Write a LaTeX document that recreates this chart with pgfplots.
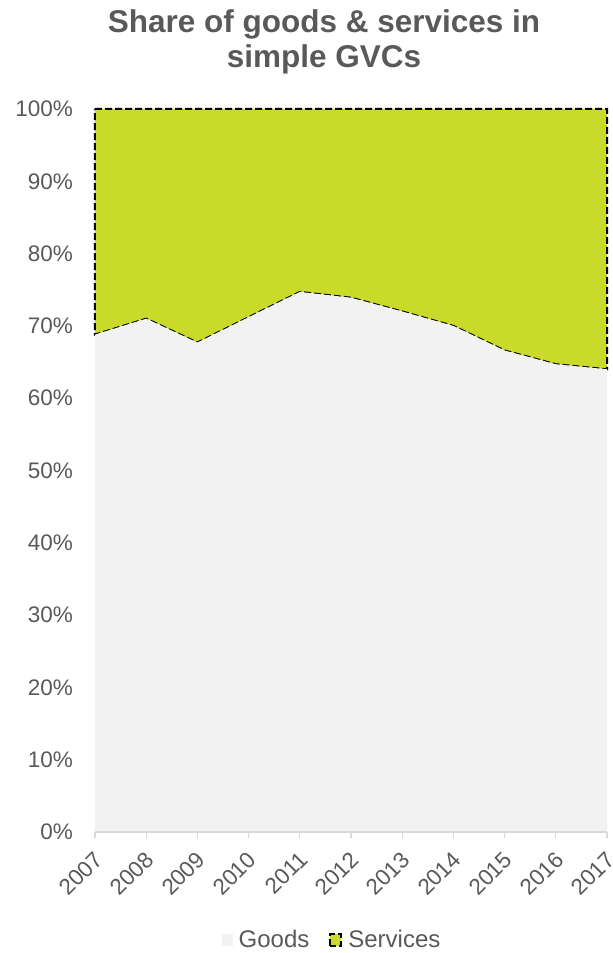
\documentclass[border=0pt]{standalone}
\usepackage{pgfplots}
\pgfplotsset{compat=1.18}
\usepackage{pgfplotstable}
\usepackage{fontspec}
\setmainfont{Liberation Sans}

\definecolor{goodsgrey}{HTML}{F2F2F2}
\definecolor{servgreen}{HTML}{C9DA2A}
\definecolor{txtgrey}{HTML}{595959}
\definecolor{axisgrey}{HTML}{D9D9D9}

% shares in per cent, goods + services = 100
\pgfplotstableread{
year goods services
2007 68.8 31.2
2008 71.0 29.0
2009 67.7 32.3
2010 71.2 28.8
2011 74.7 25.3
2012 73.9 26.1
2013 72.0 28.0
2014 70.0 30.0
2015 66.6 33.4
2016 64.7 35.3
2017 64.0 36.0
}\shares

\begin{document}
\begin{tikzpicture}
\useasboundingbox (0pt,0pt) rectangle (613pt,953pt);

\node[anchor=base, text=txtgrey, font=\fontsize{31.5}{35}\selectfont\bfseries]
  at (324pt,920pt) {Share of goods \& services in};
\node[anchor=base, text=txtgrey, font=\fontsize{31.5}{35}\selectfont\bfseries]
  at (324pt,885pt) {simple GVCs};

\begin{axis}[
  at={(95pt,121pt)}, anchor=south west,
  scale only axis, width=512pt, height=723pt,
  xmin=2007, xmax=2017, ymin=0, ymax=100,
  clip=false,
  stack plots=y,
  axis on top,
  axis x line*=bottom,
  axis y line*=left,
  y axis line style={draw=none},
  x axis line style={draw=axisgrey, line width=1.2pt},
  xtick={2007,...,2017},
  xticklabels={2007,2008,2009,2010,2011,2012,2013,2014,2015,2016,2017},
  ytick={0,10,...,100},
  yticklabels={0\%,10\%,20\%,30\%,40\%,50\%,60\%,70\%,80\%,90\%,100\%},
  x tick style={draw=axisgrey, line width=1.2pt},
  major tick length=6pt,
  tick align=outside,
  ytick style={draw=none},
  tick label style={font=\fontsize{22.5}{26}\selectfont, text=txtgrey},
  yticklabel style={anchor=east, inner sep=0pt, xshift=-16pt},
  xticklabel style={xshift=-2pt, rotate=45, anchor=north east, inner sep=0pt},
  xticklabel shift=12pt,
  legend columns=2,
  legend style={at={(0.461,-0.149)}, anchor=center, draw=none, fill=none,
    inner sep=0pt, nodes={inner sep=0pt},
    font=\fontsize{24}{28}\selectfont, text=txtgrey,
    /tikz/every odd column/.append style={column sep=6pt},
    /tikz/every even column/.append style={column sep=20pt}},
  legend image code/.code={\path[#1] (0pt,-6pt) rectangle (11pt,6pt);},
]
\addplot[fill=goodsgrey, draw=none] table[x=year, y=goods] {\shares} \closedcycle;
\addlegendentry{Goods}
\addplot[fill=servgreen, draw=black, line width=2pt, dash pattern=on 7pt off 3pt]
  table[x=year, y=services] {\shares} \closedcycle;
\addlegendentry{Services}
\end{axis}
\end{tikzpicture}
\end{document}
